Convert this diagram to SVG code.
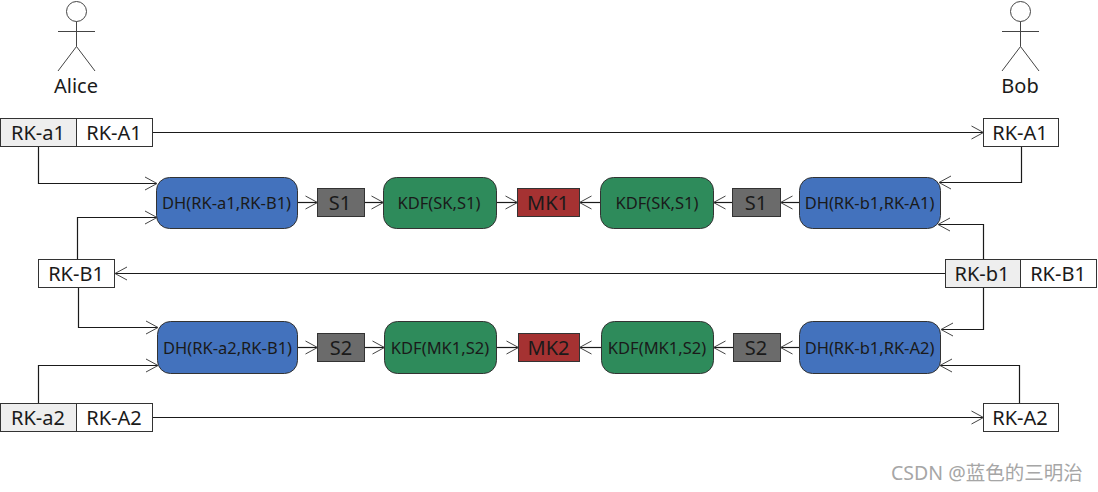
<svg xmlns="http://www.w3.org/2000/svg" width="1098" height="492" viewBox="0 0 1098 492">
<style>
text{font-family:"Noto Sans","Open Sans","Liberation Sans",sans-serif;text-anchor:middle;fill:#1a1a1a}
.k{font-size:20px}
.s{font-size:16.500px}
.b{stroke:#333;stroke-width:1;fill:#fff}
.l{fill:#eee}
.dh{fill:#4372bd}
.kdf{fill:#2e8b5b}
.sec{fill:#6b6b6b}
.mk{fill:#a53232}
.a{stroke:#444;stroke-width:1;fill:none}
.c path{stroke:#1a1a1a;stroke-width:1.2;fill:none;marker-end:url(#h)}
.w{font-family:"Noto Sans","Noto Sans CJK SC",sans-serif;font-size:19.500px;fill:#a6a6a6;text-anchor:start}
</style>
<defs>
<marker id="h" markerUnits="userSpaceOnUse" markerWidth="14" markerHeight="16" refX="13" refY="8" orient="auto">
<path d="M1 1.5L13 8L1 14.500" fill="none" stroke="#444" stroke-width="1"/>
</marker>
</defs>
<rect width="1098" height="492" fill="#fff"/>
<g id="connectors" class="c">
<path d="M152.500 132.500H983.500"/>
<path d="M38.500 146.500V183.500H157"/>
<path d="M77.500 259.500V217.500H157"/>
<path d="M945.500 273.500H115"/>
<path d="M78.500 287.500V327.500H158"/>
<path d="M38.500 403.500V365.500H158"/>
<path d="M152.500 417.500H983.500"/>
<path d="M1021.500 146.500V182.500H939"/>
<path d="M983.500 259.500V224.500H938"/>
<path d="M983.500 287.500V329.500H941"/>
<path d="M1019.500 403.500V365.500H940"/>
<path d="M297.500 202.500H317.500"/>
<path d="M364.500 202.500H383.500"/>
<path d="M496.500 202.500H517.500"/>
<path d="M600.500 202.500H579.500"/>
<path d="M732.500 202.500H713.500"/>
<path d="M799.500 202.500H780.500"/>
<path d="M297.500 347.500H317.500"/>
<path d="M364.500 347.500H384.500"/>
<path d="M496.500 347.500H518.500"/>
<path d="M601.500 347.500H579.500"/>
<path d="M733.500 347.500H713.500"/>
<path d="M799.500 347.500H780.500"/>
</g>
<g id="alice">
<circle class="a" cx="76.500" cy="11.500" r="10"/>
<path class="a" d="M76.500 21.500V46.500M58 31.500H95M76.500 46.500L58 71M76.500 46.500L95 71"/>
<text class="k" x="76" y="93">Alice</text>
</g>
<g id="bob">
<circle class="a" cx="1020.500" cy="11.500" r="10"/>
<path class="a" d="M1020.500 21.500V46.500M1002 31.500H1039M1020.500 46.500L1002 71M1020.500 46.500L1039 71"/>
<text class="k" x="1020" y="93">Bob</text>
</g>
<g id="rk-a1"><rect class="b l" x="0.500" y="118.500" width="76" height="28"/><text class="k" x="38" y="140">RK-a1</text></g>
<g id="rk-A1-alice"><rect class="b" x="76.500" y="118.500" width="76" height="28"/><text class="k" x="114" y="140">RK-A1</text></g>
<g id="rk-A1-bob"><rect class="b" x="983.500" y="118.500" width="75" height="28"/><text class="k" x="1020" y="140">RK-A1</text></g>
<g id="rk-B1-alice"><rect class="b" x="38.500" y="259.500" width="76" height="28"/><text class="k" x="76" y="281">RK-B1</text></g>
<g id="rk-b1"><rect class="b l" x="945.500" y="259.500" width="75" height="28"/><text class="k" x="982" y="281">RK-b1</text></g>
<g id="rk-B1-bob"><rect class="b" x="1020.500" y="259.500" width="76" height="28"/><text class="k" x="1058" y="281">RK-B1</text></g>
<g id="rk-a2"><rect class="b l" x="0.500" y="403.500" width="76" height="28"/><text class="k" x="38" y="425">RK-a2</text></g>
<g id="rk-A2-alice"><rect class="b" x="76.500" y="403.500" width="76" height="28"/><text class="k" x="114" y="425">RK-A2</text></g>
<g id="rk-A2-bob"><rect class="b" x="983.500" y="403.500" width="75" height="28"/><text class="k" x="1020" y="425">RK-A2</text></g>
<g id="dh1"><rect class="b dh" x="156.500" y="177.500" width="141" height="51" rx="13"/><text class="s" x="226.500" y="209">DH(RK-a1,RK-B1)</text></g>
<g id="s1-l"><rect class="b sec" x="317.500" y="188.500" width="47" height="28"/><text class="k" x="340" y="210">S1</text></g>
<g id="kdf1-l"><rect class="b kdf" x="383.500" y="177.500" width="113" height="51" rx="13"/><text class="s" x="439" y="209">KDF(SK,S1)</text></g>
<g id="mk1"><rect class="b mk" x="517.500" y="188.500" width="62" height="28"/><text class="k" x="548" y="210">MK1</text></g>
<g id="kdf1-r"><rect class="b kdf" x="600.500" y="177.500" width="113" height="51" rx="13"/><text class="s" x="657" y="209">KDF(SK,S1)</text></g>
<g id="s1-r"><rect class="b sec" x="732.500" y="188.500" width="48" height="28"/><text class="k" x="756" y="210">S1</text></g>
<g id="dh1-r"><rect class="b dh" x="799.500" y="177.500" width="141" height="51" rx="13"/><text class="s" x="869.500" y="209">DH(RK-b1,RK-A1)</text></g>
<g id="dh2"><rect class="b dh" x="157.500" y="321.500" width="140" height="52" rx="13"/><text class="s" x="227.500" y="354">DH(RK-a2,RK-B1)</text></g>
<g id="s2-l"><rect class="b sec" x="317.500" y="333.500" width="47" height="28"/><text class="k" x="341" y="355">S2</text></g>
<g id="kdf2-l"><rect class="b kdf" x="384.500" y="321.500" width="112" height="52" rx="13"/><text class="s" x="440" y="354">KDF(MK1,S2)</text></g>
<g id="mk2"><rect class="b mk" x="518.500" y="333.500" width="61" height="28"/><text class="k" x="548.500" y="355">MK2</text></g>
<g id="kdf2-r"><rect class="b kdf" x="601.500" y="321.500" width="112" height="52" rx="13"/><text class="s" x="657" y="354">KDF(MK1,S2)</text></g>
<g id="s2-r"><rect class="b sec" x="733.500" y="333.500" width="47" height="28"/><text class="k" x="756" y="355">S2</text></g>
<g id="dh2-r"><rect class="b dh" x="799.500" y="321.500" width="141" height="52" rx="13"/><text class="s" x="869.500" y="354">DH(RK-b1,RK-A2)</text></g>
<text class="w" x="891" y="480">CSDN @蓝色的三明治</text>
</svg>
